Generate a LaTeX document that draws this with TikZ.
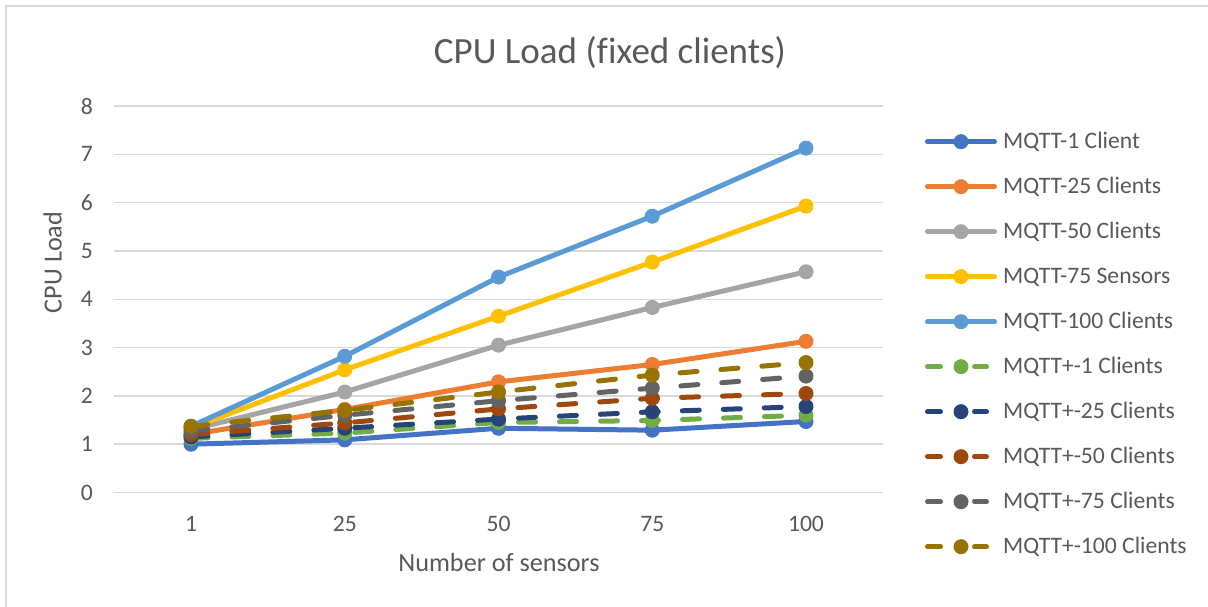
\documentclass[tikz,border=0pt]{standalone}
\usepackage{fontspec}
\setmainfont[Ligatures=NoCommon]{Carlito}
\usepackage{tikz}
\usetikzlibrary{positioning}
\usepackage{xcolor}

\definecolor{gridgray}{HTML}{D9D9D9}
\definecolor{labgray}{HTML}{595959}
\definecolor{cOne}{HTML}{4472C4}
\definecolor{cTwentyFive}{HTML}{ED7D31}
\definecolor{cFifty}{HTML}{A5A5A5}
\definecolor{cSeventyFive}{HTML}{FFC000}
\definecolor{cHundred}{HTML}{5B9BD5}
\definecolor{pOne}{HTML}{70AD47}
\definecolor{pTwentyFive}{HTML}{264478}
\definecolor{pFifty}{HTML}{9E480E}
\definecolor{pSeventyFive}{HTML}{636363}
\definecolor{pHundred}{HTML}{997300}

\tikzset{
  gridln/.style={draw=gridgray, line width=1.5pt},
  ticklab/.style={text=labgray, font=\fontsize{23.6}{28}\selectfont, inner sep=0pt},
  ytick/.style={ticklab, anchor=east, xshift=-21pt},
  xtick/.style={ticklab, anchor=base, yshift=-39.5pt},
  axtitle/.style={text=labgray, font=\fontsize{26.2}{31}\selectfont, inner sep=0pt, anchor=base},
  legtext/.style={ticklab, anchor=base west},
  solidser/.style={line width=5pt, line cap=round, line join=round, mark=*, mark size=7pt,
    mark options={solid, line width=1pt}},
  dashser/.style={solidser, dash pattern=on 17pt off 24pt},
  legsolid/.style={line width=5pt, line cap=round},
  legdash/.style={line width=5pt, line cap=round, dash pattern=on 13pt off 34pt},
}

\begin{document}
\begin{tikzpicture}[x=1pt, y=1pt]
    \path[use as bounding box, fill=white] (0,0) rectangle (1208,607);
    % Frame
    \draw[gridgray, line width=1.5pt] (6,0) -- (6,601) -- (1208,601);

    % Title
    \node[text=labgray, font=\fontsize{37}{44}\selectfont, inner sep=0pt, anchor=base] (title) at (610,543.7) {CPU Load (fixed clients)};

    \begin{scope}[shift={(191,114.5)}, x=153.75pt, y=48.3pt]
        % Gridlines
        \draw[gridln] (-0.5,0) -- (4.5,0);
        \draw[gridln] (-0.5,1) -- (4.5,1);
        \draw[gridln] (-0.5,2) -- (4.5,2);
        \draw[gridln] (-0.5,3) -- (4.5,3);
        \draw[gridln] (-0.5,4) -- (4.5,4);
        \draw[gridln] (-0.5,5) -- (4.5,5);
        \draw[gridln] (-0.5,6) -- (4.5,6);
        \draw[gridln] (-0.5,7) -- (4.5,7);
        \draw[gridln] (-0.5,8) -- (4.5,8);

        % Y ticks
        \node[ytick] (yt0) at (-0.5,0) {0};
        \node[ytick] (yt1) at (-0.5,1) {1};
        \node[ytick] (yt2) at (-0.5,2) {2};
        \node[ytick] (yt3) at (-0.5,3) {3};
        \node[ytick] (yt4) at (-0.5,4) {4};
        \node[ytick] (yt5) at (-0.5,5) {5};
        \node[ytick] (yt6) at (-0.5,6) {6};
        \node[ytick] (yt7) at (-0.5,7) {7};
        \node[ytick] (yt8) at (-0.5,8) {8};

        % X ticks
        \node[xtick] (xt1) at (0,0) {1};
        \node[xtick] (xt25) at (1,0) {25};
        \node[xtick] (xt50) at (2,0) {50};
        \node[xtick] (xt75) at (3,0) {75};
        \node[xtick] (xt100) at (4,0) {100};

        % MQTT series
        \draw[solidser, cOne] plot coordinates {(0,1.0) (1,1.09) (2,1.33) (3,1.29) (4,1.47)};
        \draw[solidser, cTwentyFive] plot coordinates {(0,1.2) (1,1.72) (2,2.29) (3,2.65) (4,3.13)};
        \draw[solidser, cFifty] plot coordinates {(0,1.3) (1,2.08) (2,3.05) (3,3.83) (4,4.57)};
        \draw[solidser, cSeventyFive] plot coordinates {(0,1.33) (1,2.54) (2,3.65) (3,4.77) (4,5.93)};
        \draw[solidser, cHundred] plot coordinates {(0,1.37) (1,2.82) (2,4.46) (3,5.72) (4,7.13)};

        % MQTT+- series
        \draw[dashser, pOne] plot coordinates {(0,1.12) (1,1.23) (2,1.45) (3,1.49) (4,1.6)};
        \draw[dashser, pTwentyFive] plot coordinates {(0,1.15) (1,1.33) (2,1.52) (3,1.67) (4,1.78)};
        \draw[dashser, pFifty] plot coordinates {(0,1.2) (1,1.44) (2,1.73) (3,1.95) (4,2.05)};
        \draw[dashser, pSeventyFive] plot coordinates {(0,1.27) (1,1.6) (2,1.9) (3,2.16) (4,2.41)};
        \draw[dashser, pHundred] plot coordinates {(0,1.37) (1,1.70) (2,2.08) (3,2.43) (4,2.69)};
    \end{scope}

    % Axis titles
    \node[axtitle] (xtitle) at (499,35.3) {Number of sensors};
    \node[axtitle, rotate=90] (ytitle) at (61.7,344.5) {CPU Load};

    % Legend
    \coordinate (k1) at (961,465.3);
    \coordinate (k2) at ([yshift=-45pt]k1);
    \coordinate (k3) at ([yshift=-45pt]k2);
    \coordinate (k4) at ([yshift=-45pt]k3);
    \coordinate (k5) at ([yshift=-45pt]k4);
    \coordinate (k6) at ([yshift=-45pt]k5);
    \coordinate (k7) at ([yshift=-45pt]k6);
    \coordinate (k8) at ([yshift=-45pt]k7);
    \coordinate (k9) at ([yshift=-45pt]k8);
    \coordinate (k10) at ([yshift=-45pt]k9);

    \draw[legsolid, cOne] ([xshift=-33.5pt]k1) -- ([xshift=33.5pt]k1);
    \fill[cOne] (k1) circle (7.5);
    \node[legtext] (lg1) at ([shift={(42,-7.3)}]k1) {MQTT-1 Client};
    \draw[legsolid, cTwentyFive] ([xshift=-33.5pt]k2) -- ([xshift=33.5pt]k2);
    \fill[cTwentyFive] (k2) circle (7.5);
    \node[legtext] (lg2) at ([shift={(42,-7.3)}]k2) {MQTT-25 Clients};
    \draw[legsolid, cFifty] ([xshift=-33.5pt]k3) -- ([xshift=33.5pt]k3);
    \fill[cFifty] (k3) circle (7.5);
    \node[legtext] (lg3) at ([shift={(42,-7.3)}]k3) {MQTT-50 Clients};
    \draw[legsolid, cSeventyFive] ([xshift=-33.5pt]k4) -- ([xshift=33.5pt]k4);
    \fill[cSeventyFive] (k4) circle (7.5);
    \node[legtext] (lg4) at ([shift={(42,-7.3)}]k4) {MQTT-75 Sensors};
    \draw[legsolid, cHundred] ([xshift=-33.5pt]k5) -- ([xshift=33.5pt]k5);
    \fill[cHundred] (k5) circle (7.5);
    \node[legtext] (lg5) at ([shift={(42,-7.3)}]k5) {MQTT-100 Clients};

    \draw[legdash, pOne] ([xshift=-33.5pt]k6) -- ([xshift=25.5pt]k6);
    \fill[pOne] (k6) circle (7.5);
    \node[legtext] (lg6) at ([shift={(42,-7.3)}]k6) {MQTT+-1 Clients};
    \draw[legdash, pTwentyFive] ([xshift=-33.5pt]k7) -- ([xshift=25.5pt]k7);
    \fill[pTwentyFive] (k7) circle (7.5);
    \node[legtext] (lg7) at ([shift={(42,-7.3)}]k7) {MQTT+-25 Clients};
    \draw[legdash, pFifty] ([xshift=-33.5pt]k8) -- ([xshift=25.5pt]k8);
    \fill[pFifty] (k8) circle (7.5);
    \node[legtext] (lg8) at ([shift={(42,-7.3)}]k8) {MQTT+-50 Clients};
    \draw[legdash, pSeventyFive] ([xshift=-33.5pt]k9) -- ([xshift=25.5pt]k9);
    \fill[pSeventyFive] (k9) circle (7.5);
    \node[legtext] (lg9) at ([shift={(42,-7.3)}]k9) {MQTT+-75 Clients};
    \draw[legdash, pHundred] ([xshift=-33.5pt]k10) -- ([xshift=25.5pt]k10);
    \fill[pHundred] (k10) circle (7.5);
    \node[legtext] (lg10) at ([shift={(42,-7.3)}]k10) {MQTT+-100 Clients};
\end{tikzpicture}
\end{document}
